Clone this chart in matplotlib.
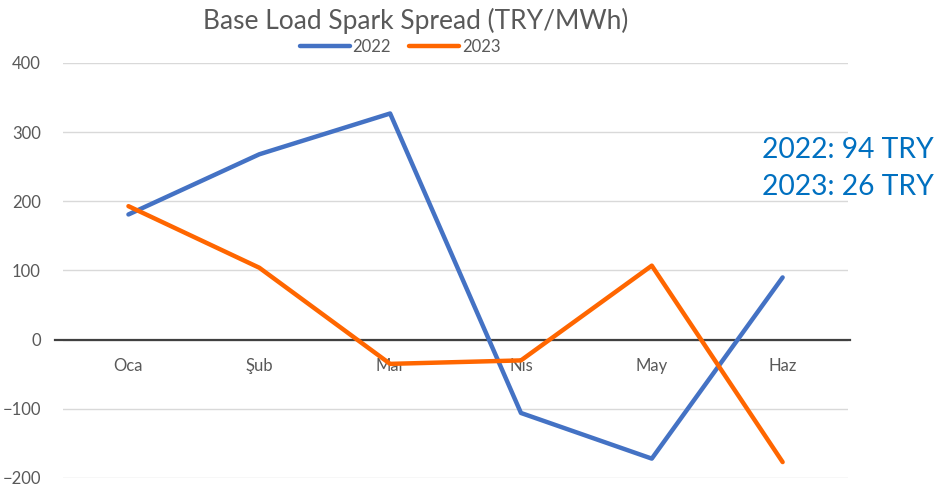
import matplotlib.pyplot as plt
import numpy as np

months = ['Oca', 'Şub', 'Mar', 'Nis', 'May', 'Haz']
spread_2022 = [181, 268, 327, -106, -172, 90]
spread_2023 = [193, 104, -35, -30, 107, -177]
avg_2022 = 94
avg_2023 = 26

plt.rcParams['font.family'] = ['Lato', 'DejaVu Sans']

fig = plt.figure(figsize=(9.38, 4.91), dpi=100)
ax = fig.add_axes([0.0672, 0.0265, 0.8369, 0.8452])

x = np.arange(len(months))
ax.plot(x, spread_2022, color='#4472C4', lw=3.2, label='2022', solid_capstyle='round')
ax.plot(x, spread_2023, color='#FF6600', lw=3.2, label='2023', solid_capstyle='round')

ax.set_xlim(-0.5, len(months) - 0.5)
ax.set_ylim(-200, 400)
ax.set_yticks(range(-200, 401, 100))
ax.grid(axis='y', color='#D9D9D9', lw=1)
ax.set_axisbelow(True)

for s in ['top', 'right', 'left', 'bottom']:
    ax.spines[s].set_visible(False)

# zero line, a bit wider than the plot area
ax.plot([-0.01, 1.003], [0, 0], transform=ax.get_yaxis_transform(),
        color='#404040', lw=1.6, clip_on=False, zorder=1.5)

ax.set_xticks(x)
ax.set_xticklabels(months)
ax.spines['bottom'].set_position(('data', 0))
ax.tick_params(axis='x', length=0, labelsize=12, labelcolor='#595959', pad=13)
ax.tick_params(axis='y', length=0, labelsize=12, labelcolor='#595959', pad=16)

fig.text(0.4435, 0.958, 'Base Load Spark Spread (TRY/MWh)', ha='center', va='center',
         fontsize=19, color='#595959')

ax.legend(loc='center', bbox_to_anchor=(0.4265, 0.904), bbox_transform=fig.transFigure,
          ncol=2, frameon=False, fontsize=12, labelcolor='#595959',
          handlelength=3.0, handletextpad=0.15, columnspacing=1.1)

fig.text(762 / 938, 1 - 150 / 491, f'2022: {avg_2022} TRY', ha='left', va='center',
         fontsize=20.3, color='#0070C0')
fig.text(762 / 938, 1 - 187 / 491, f'2023: {avg_2023} TRY', ha='left', va='center',
         fontsize=20.3, color='#0070C0')

fig.savefig('out.png', dpi=100)
